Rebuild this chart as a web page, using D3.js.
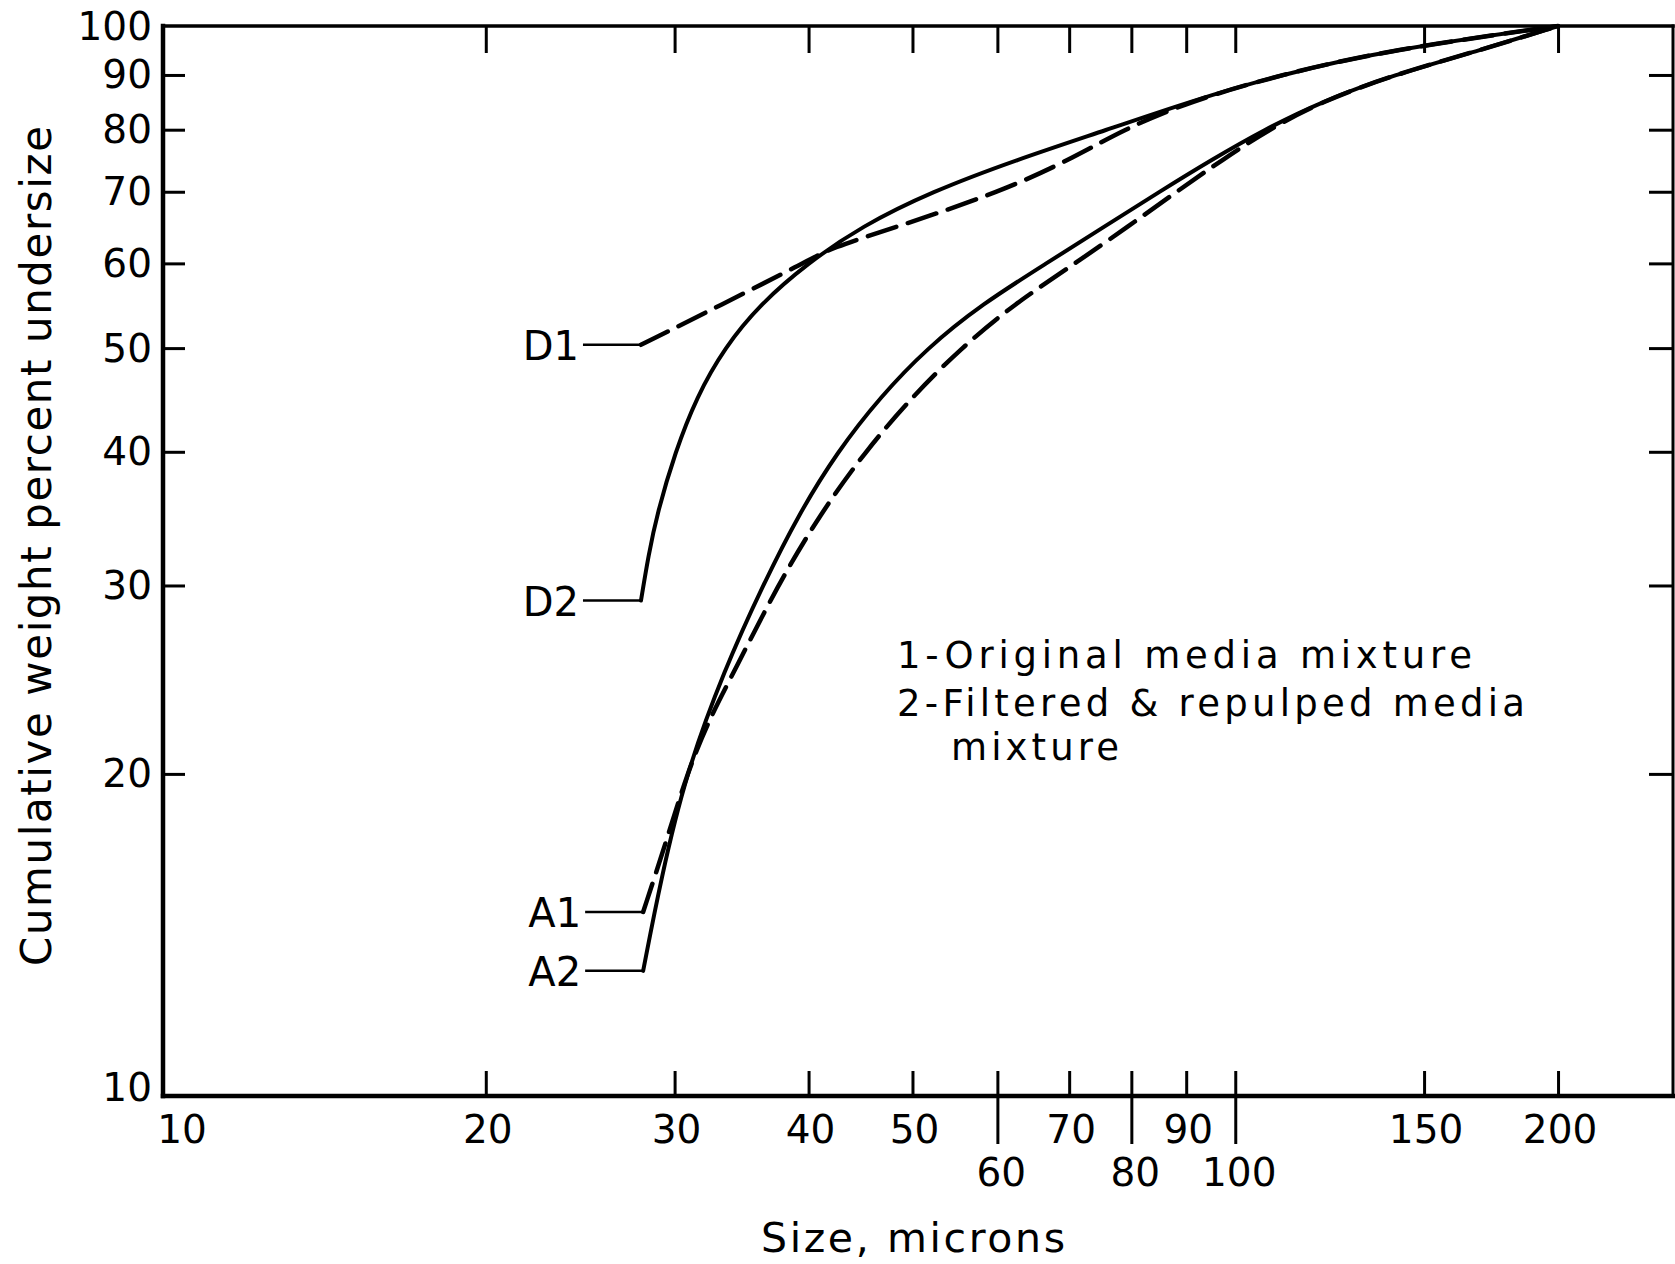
<!DOCTYPE html>
<html><head><meta charset="utf-8">
<script src="https://cdn.jsdelivr.net/npm/d3@7"></script>
<style>
html,body{margin:0;padding:0;background:#fff;}
svg{display:block;font-family:"DejaVu Sans",sans-serif;}
</style>
</head><body>
<svg id="chart" width="1675" height="1264"></svg>
<script>
// ---------- data ----------
const xTickValues = [20, 30, 40, 50, 60, 70, 80, 90, 100, 150, 200];
const xLabelsRow1 = [10, 20, 30, 40, 50, 70, 90, 150, 200];
const xLabelsRow2 = [60, 80, 100];
const yTickValues = [20, 30, 40, 50, 60, 70, 80, 90];
const yLabels = [10, 20, 30, 40, 50, 60, 70, 80, 90, 100];

// D1: original media mixture (dashed)
const d1Size = [27.91, 33.30, 39.54, 41.88, 48.59, 60.41, 70.12, 78.61, 90.62, 109.9, 139.4, 200];
const d1Pct  = [50.35, 55, 60, 62, 65, 70, 75, 80, 85, 90, 95, 100];

// D2: filtered & repulped (solid)
const d2Size = [27.91, 28.36, 28.89, 30.04, 31.45, 33.37, 36.08, 39.90, 44.84, 52.06, 62.53, 75.96, 90.62, 109.9, 139.4, 200];
const d2Pct  = [29.04, 32, 35, 40, 45, 50, 55, 60, 65, 70, 75, 80, 85, 90, 95, 100];

// A1: original media mixture (dashed)
const a1Size = [28.04, 29.42, 30.80, 32.31, 34.15, 37.42, 41.02, 45.15, 49.94, 55.50, 62.24, 70.93, 79.51, 88.17, 97.29, 107.4, 120.4, 140.4, 169.7, 200];
const a1Pct  = [14.86, 17.2, 20, 22.5, 25, 30, 35, 40, 45, 50, 55, 60, 65, 70, 75, 80, 85, 90, 95, 100];

// A2: filtered & repulped (solid)
const a2Size = [28.04, 29.15, 30.73, 33.37, 36.25, 39.18, 42.55, 46.65, 51.59, 58.10, 66.65, 75.61, 84.98, 95.07, 106.4, 120.4, 140.4, 169.7, 200];
const a2Pct  = [13.09, 16, 20, 25, 30, 35, 40, 45, 50, 55, 60, 65, 70, 75, 80, 85, 90, 95, 100];

const curveNames = ["D1", "D2", "A1", "A2"];
const curveDashed = [true, false, true, false];
const legendLines = ["1-Original media mixture", "2-Filtered & repulped media", "mixture"];
const xTitle = "Size, microns";
const yTitle = "Cumulative weight percent undersize";

// ---------- layout ----------
const svg = d3.select("#chart");
const x = d3.scaleLog().domain([10, 256]).range([163, 1673]);
const y = d3.scaleLog().domain([10, 100]).range([1096, 26]);
const [xL, xR] = x.range();
const [yB, yT] = y.range();

function stripDomain(g) { g.select(".domain").remove(); g.selectAll("text").remove(); }
const tickStyle = g => g.selectAll("line").attr("stroke", "#000").attr("stroke-width", 3);

svg.append("g").attr("transform", `translate(0,${yB})`)
  .call(d3.axisTop(x).tickValues(xTickValues).tickSize(25).tickFormat(""))
  .call(stripDomain).call(tickStyle);
svg.append("g").attr("transform", `translate(0,${yB})`)
  .call(d3.axisBottom(x).tickValues(xLabelsRow2).tickSize(48).tickFormat(""))
  .call(stripDomain).call(tickStyle);
svg.append("g").attr("transform", `translate(0,${yT})`)
  .call(d3.axisBottom(x).tickValues(xTickValues).tickSize(27).tickFormat(""))
  .call(stripDomain).call(tickStyle);
svg.append("g").attr("transform", `translate(${xL},0)`)
  .call(d3.axisRight(y).tickValues(yTickValues).tickSize(22).tickFormat(""))
  .call(stripDomain).call(tickStyle);
svg.append("g").attr("transform", `translate(${xR},0)`)
  .call(d3.axisLeft(y).tickValues(yTickValues).tickSize(24).tickFormat(""))
  .call(stripDomain).call(tickStyle);

// frame
const frame = svg.append("g").attr("stroke", "#000").attr("stroke-linecap", "square");
frame.append("line").attr("x1", xL).attr("x2", xL).attr("y1", yT).attr("y2", yB).attr("stroke-width", 4.5);
frame.append("line").attr("x1", xL).attr("x2", xR).attr("y1", yB).attr("y2", yB).attr("stroke-width", 4.5);
frame.append("line").attr("x1", xL).attr("x2", xR).attr("y1", yT).attr("y2", yT).attr("stroke-width", 3.5);
frame.append("line").attr("x1", xR).attr("x2", xR).attr("y1", yT).attr("y2", yB).attr("stroke-width", 3);

// tick labels
const fs = 39;
svg.append("g").selectAll("text").data(yLabels).join("text")
  .attr("x", xL - 11).attr("y", d => y(d) + (d === 10 ? -9 : 0))
  .attr("text-anchor", "end").attr("dominant-baseline", "central")
  .attr("font-size", fs).text(d => d);
svg.append("g").selectAll("text").data(xLabelsRow1).join("text")
  .attr("x", d => x(d) + (d === 10 ? 19 : 2)).attr("y", yB + 47)
  .attr("text-anchor", "middle").attr("font-size", fs).text(d => d);
svg.append("g").selectAll("text").data(xLabelsRow2).join("text")
  .attr("x", d => x(d) + 4).attr("y", yB + 90)
  .attr("text-anchor", "middle").attr("font-size", fs).text(d => d);

// axis titles
svg.append("text").attr("x", 913).attr("y", 1252).attr("text-anchor", "middle")
  .attr("font-size", 41).attr("textLength", 304).attr("lengthAdjust", "spacing").text(xTitle);
svg.append("text").attr("transform", "translate(51,546) rotate(-90)").attr("text-anchor", "middle")
  .attr("font-size", 42).attr("textLength", 840).attr("lengthAdjust", "spacing").text(yTitle);

// curves
const seriesData = [
  d3.zip(d1Size, d1Pct), d3.zip(d2Size, d2Pct), d3.zip(a1Size, a1Pct), d3.zip(a2Size, a2Pct)
];
const line = d3.line().x(d => x(d[0])).y(d => y(d[1])).curve(d3.curveBasis);
svg.append("g").selectAll("path").data(seriesData).join("path")
  .attr("d", line).attr("fill", "none").attr("stroke", "#000")
  .attr("stroke-width", (d, i) => curveDashed[i] ? 4.5 : 4)
  .attr("stroke-dasharray", (d, i) => curveDashed[i] ? "30,12" : null)
  .attr("stroke-linecap", "round");

// curve labels with leaders
const lab = svg.append("g");
seriesData.forEach((s, i) => {
  const sx = x(s[0][0]), sy = y(s[0][1]);
  lab.append("line").attr("x1", sx - 58).attr("x2", sx).attr("y1", sy).attr("y2", sy)
    .attr("stroke", "#000").attr("stroke-width", 2.5);
  lab.append("text").attr("x", sx - 62).attr("y", sy + 1).attr("text-anchor", "end")
    .attr("dominant-baseline", "central").attr("font-size", 40).text(curveNames[i]);
});

// legend text
const legX = 897;
const legY = [668, 716, 760];
const legW = [575, 628, 168];
const legDx = [0, 0, 54];
svg.append("g").selectAll("text").data(legendLines).join("text")
  .attr("x", (d, i) => legX + legDx[i]).attr("y", (d, i) => legY[i])
  .attr("font-size", 37).attr("textLength", (d, i) => legW[i]).attr("lengthAdjust", "spacing")
  .text(d => d);
</script>
</body></html>
